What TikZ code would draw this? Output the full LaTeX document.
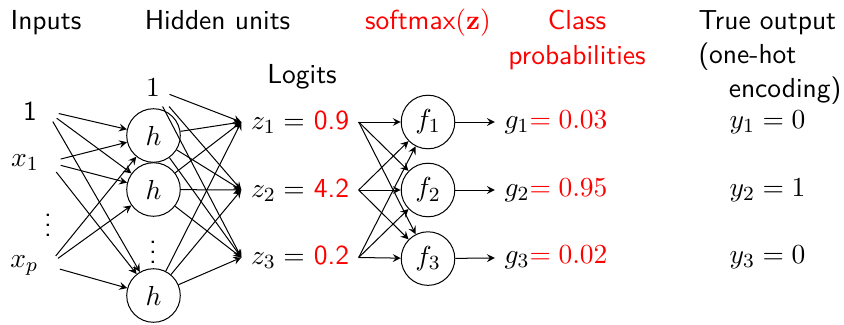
\documentclass[tikz,border=0pt,11pt]{standalone}
\usepackage{amsmath}
\usepackage{xcolor}
\usepackage{tikz}
\usetikzlibrary{arrows.meta,positioning,calc}
\renewcommand{\familydefault}{\sfdefault}

\begin{document}
\begin{tikzpicture}[>=stealth,
   unit/.style={circle,draw,minimum size=7.5mm,inner sep=0pt},
   hdr/.style={anchor=base}]
  \useasboundingbox (0,0) rectangle (11.816,-4.536);
  % headers
  \node[hdr] (hin) at (0.644,-0.406) {Inputs};
  \node[hdr] (hhid) at (3.045,-0.406) {Hidden units};
  \node[hdr,red] (hsm) at (5.992,-0.406) {softmax$(\mathbf{z})$};
  \node[hdr] (hlog) at (4.228,-1.162) {Logits};
  \node[red,align=center,anchor=north,inner sep=0pt] (hprob) at (8.078,-0.14) {Class\\probabilities};
  \node[text width=2cm,align=left,anchor=north west,inner sep=0pt] (htrue) at (9.772,-0.14)
     {True output\\(one-hot\\\hspace*{\fill}encoding)};
  % inputs
  \node (i0) at (0.42,-1.55) {1};
  \node (i1) at (0.35,-2.27) {$x_1$};
  \node (idots) at (0.672,-3.05) {$\vdots$};
  \node (ip) at (0.34,-3.72) {$x_p$};
  % hidden layer
  \node (b1) at (2.142,-1.232) {$1$};
  \node[unit] (h1) at (2.149,-1.897) {$h$};
  \node[unit] (h2) at (2.149,-2.653) {$h$};
  \node (hdots) at (2.142,-3.43) {$\vdots$};
  \node[unit] (h3) at (2.149,-4.137) {$h$};
  % logits
  \node (z1) at (4.2,-1.708) {$z_1 =$ \textcolor{red}{0.9}};
  \node (z2) at (4.2,-2.66) {$z_2 =$ \textcolor{red}{4.2}};
  \node (z3) at (4.2,-3.605) {$z_3 =$ \textcolor{red}{0.2}};
  % softmax
  \node[unit] (f1) at (5.992,-1.708) {$f_1$};
  \node[unit] (f2) at (5.992,-2.66) {$f_2$};
  \node[unit] (f3) at (5.992,-3.62) {$f_3$};
  % outputs
  \node (g1) at (7.784,-1.708) {$g_1$\textcolor{red}{$= 0.03$}};
  \node (g2) at (7.784,-2.66) {$g_2$\textcolor{red}{$= 0.95$}};
  \node (g3) at (7.784,-3.605) {$g_3$\textcolor{red}{$= 0.02$}};
  \node (y1) at (10.745,-1.708) {$y_1 = 0$};
  \node (y2) at (10.745,-2.66) {$y_2 = 1$};
  \node (y3) at (10.745,-3.605) {$y_3 = 0$};
  % connections
  \foreach \s in {i0,i1,ip}
    \foreach \t in {h1,h2,h3}
      \draw[->,shorten <=5pt] (\s.east) -- (\t);
  \foreach \s in {b1,h1,h2,h3}
    \foreach \t in {z1,z2,z3}
      \draw[->] (\s) -- (\t.west);
  \foreach \s in {z1,z2,z3}
    \foreach \t in {f1,f2,f3}
      \draw[->] (\s.east) -- (\t);
  \foreach \k in {1,2,3}
    \draw[->] (f\k) -- (g\k);
\end{tikzpicture}
\end{document}
